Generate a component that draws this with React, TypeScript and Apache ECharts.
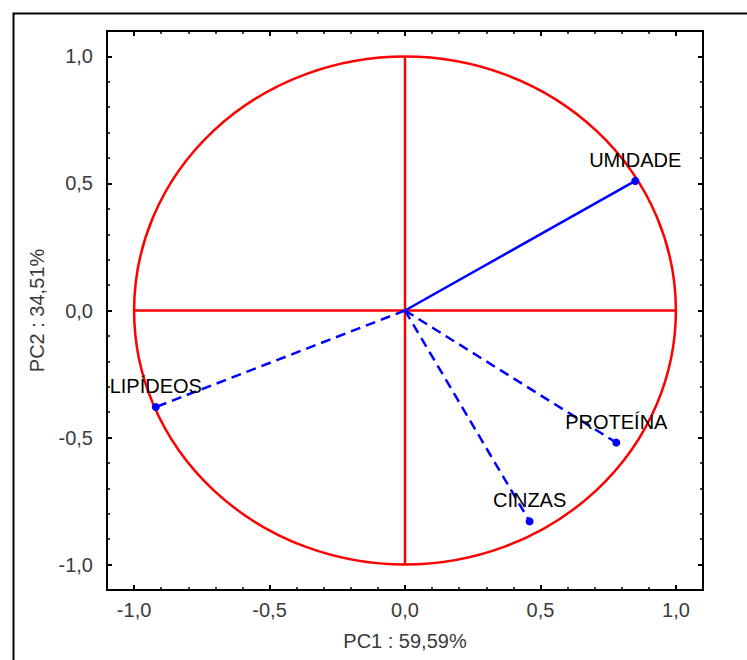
import React, { useEffect, useRef } from "react";
import * as echarts from "echarts";

// Loadings of each variable on the first two principal components
const variables = ["UMIDADE", "LIPÍDEOS", "PROTEÍNA", "CINZAS"];
const pc1 = [0.85, -0.92, 0.78, 0.46];
const pc2 = [0.51, -0.38, -0.52, -0.83];
const solidVector = [true, false, false, false];

// Axis ticks
const majorTicks = [-1, -0.5, 0, 0.5, 1];
const minorTicks = [
  -1.1, -1, -0.9, -0.8, -0.7, -0.6, -0.5, -0.4, -0.3, -0.2, -0.1, 0, 0.1, 0.2, 0.3, 0.4, 0.5, 0.6,
  0.7, 0.8, 0.9, 1, 1.1,
];
const axisMin = -1.1;
const axisMax = 1.1;

// Correlation circle (unit radius) and its crosshair
const circleCenter = [0, 0];
const circleRadius = 1;
const crossH = [
  [-1, 0],
  [1, 0],
];
const crossV = [
  [0, -1],
  [0, 1],
];

const FONT = "'Liberation Sans', Arial, sans-serif";
const RED = "#ff0000";
const BLUE = "#0000ff";

const fmt = (v: number) => (Math.abs(v) < 1e-9 ? "0,0" : v.toFixed(1).replace(".", ","));

function axisSet(kind: "x" | "y") {
  const common = {
    type: "value" as const,
    min: axisMin,
    max: axisMax,
    splitLine: { show: false },
    axisLine: { show: false, onZero: false },
  };
  const majorTick = {
    show: true,
    inside: true,
    length: 5,
    customValues: majorTicks,
    lineStyle: { color: "#000", width: 2 },
  };
  const minorTick = {
    show: true,
    inside: true,
    length: 3,
    customValues: minorTicks,
    lineStyle: { color: "#000", width: 1.5 },
  };
  const major = {
    ...common,
    position: kind === "x" ? "bottom" : "left",
    name: kind === "x" ? "PC1 : 59,59%" : "PC2 : 34,51%",
    nameLocation: "middle",
    nameGap: kind === "x" ? 41 : 60,
    nameTextStyle: { fontFamily: FONT, fontSize: 20, color: "#3a3a3a" },
    axisTick: majorTick,
    axisLabel: {
      show: true,
      customValues: majorTicks,
      formatter: fmt,
      margin: kind === "x" ? 10 : 14,
      fontFamily: FONT,
      fontSize: 20,
      color: "#3a3a3a",
    },
  };
  const minor = {
    ...common,
    position: kind === "x" ? "bottom" : "left",
    axisTick: minorTick,
    axisLabel: { show: false },
  };
  const majorOpp = {
    ...common,
    position: kind === "x" ? "top" : "right",
    axisTick: majorTick,
    axisLabel: { show: false },
  };
  const minorOpp = {
    ...common,
    position: kind === "x" ? "top" : "right",
    axisTick: minorTick,
    axisLabel: { show: false },
  };
  return [major, minor, majorOpp, minorOpp];
}

export default function App() {
  const ref = useRef<HTMLDivElement>(null);

  useEffect(() => {
    if (!ref.current) return;
    const chart = echarts.init(ref.current, null, { renderer: "svg" });

    const vectorSeries = variables.map((name, i) => ({
      type: "line",
      name,
      z: 5,
      data: [
        { value: [0, 0], symbol: "none", label: { show: false } },
        {
          value: [pc1[i], pc2[i]],
          symbol: "circle",
          symbolSize: 8,
          label: {
            show: true,
            position: "top",
            distance: 7,
            formatter: name,
            fontFamily: FONT,
            fontSize: 20,
            color: "#000",
          },
        },
      ],
      lineStyle: {
        color: BLUE,
        width: 2.5,
        type: solidVector[i] ? "solid" : [10, 6],
      },
      itemStyle: { color: BLUE },
      emphasis: { disabled: true },
    }));

    chart.setOption({
      animation: false,
      graphic: [
        {
          type: "rect",
          left: 11,
          top: 11,
          z: -10,
          shape: { width: 780, height: 700 },
          style: { fill: "none", stroke: "#000", lineWidth: 2 },
        },
      ],
      grid: {
        left: 107,
        right: 44,
        top: 31,
        bottom: 70,
        show: true,
        borderColor: "#000",
        borderWidth: 2,
        backgroundColor: "transparent",
      },
      xAxis: axisSet("x"),
      yAxis: axisSet("y"),
      series: [
        {
          type: "custom",
          z: 2,
          data: [[circleCenter[0], circleCenter[1], circleRadius]],
          renderItem: (_params: any, api: any) => {
            const c = api.coord([api.value(0), api.value(1)]);
            const r = api.value(2);
            const rx = api.size([r, 0])[0];
            const ry = api.size([0, r])[1];
            const d = `M ${c[0] - rx} ${c[1]} A ${rx} ${ry} 0 1 0 ${c[0] + rx} ${c[1]} A ${rx} ${ry} 0 1 0 ${c[0] - rx} ${c[1]} Z`;
            return {
              type: "path",
              shape: { pathData: d },
              style: { fill: "none", stroke: RED, lineWidth: 2.5 },
            };
          },
          silent: true,
        },
        {
          type: "line",
          z: 3,
          data: crossH,
          symbol: "none",
          lineStyle: { color: RED, width: 2.5 },
          silent: true,
        },
        {
          type: "line",
          z: 3,
          data: crossV,
          symbol: "none",
          lineStyle: { color: RED, width: 2.5 },
          silent: true,
        },
        ...vectorSeries,
      ],
    });

    return () => chart.dispose();
  }, []);

  return (
    <div
      ref={ref}
      style={{ position: "absolute", left: 0, top: 0, width: 747, height: 660 }}
    />
  );
}
